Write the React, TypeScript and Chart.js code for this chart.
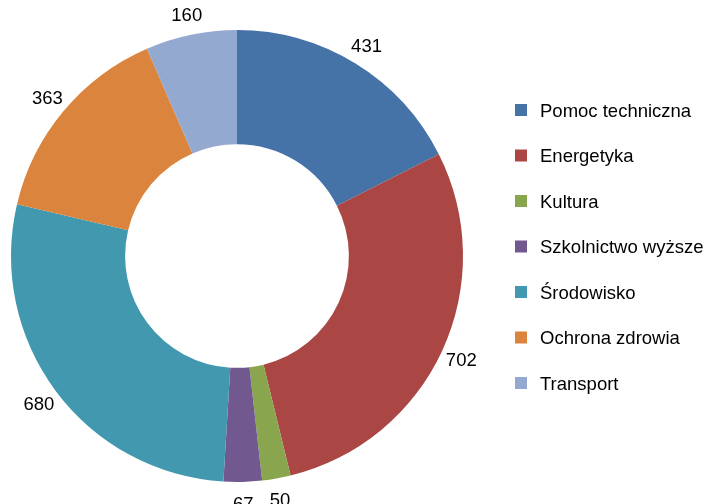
import React, { useEffect, useRef } from "react";
import { Chart, registerables } from "chart.js";

Chart.register(...registerables);

const categories = [
  "Pomoc techniczna",
  "Energetyka",
  "Kultura",
  "Szkolnictwo wyższe",
  "Środowisko",
  "Ochrona zdrowia",
  "Transport",
];
const values = [431, 702, 50, 67, 680, 363, 160];
const colors = ["#4572A7", "#AA4643", "#89A54E", "#71588F", "#4198AF", "#DB843D", "#93A9CF"];

const FONT = '18.5px "Liberation Sans", Arial, sans-serif';

const labelPlugin = {
  id: "outsideLabels",
  afterDraw(chart: any) {
    const ctx = chart.ctx;
    const meta = chart.getDatasetMeta(0);
    ctx.save();
    ctx.font = FONT;
    ctx.fillStyle = "#000";
    ctx.textAlign = "center";
    ctx.textBaseline = "alphabetic";
    meta.data.forEach((arc: any, i: number) => {
      const p = arc.getProps(["x", "y", "startAngle", "endAngle", "outerRadius"], true);
      const mid = (p.startAngle + p.endAngle) / 2;
      const r = p.outerRadius + 21;
      const cx = p.x + Math.cos(mid) * r;
      const cy = p.y + Math.sin(mid) * r;
      ctx.fillText(String(chart.data.datasets[0].data[i]), cx, cy + 6.6);
    });
    // legend
    const lx = 515;
    const ly0 = 110;
    const step = 45.5;
    chart.data.labels.forEach((lab: string, i: number) => {
      const y = ly0 + i * step;
      ctx.fillStyle = chart.data.datasets[0].backgroundColor[i];
      ctx.fillRect(lx, y - 6, 12, 12);
      ctx.fillStyle = "#000";
      ctx.textAlign = "left";
      ctx.fillText(lab, lx + 25, y + 6.6);
    });
    ctx.restore();
  },
};

export default function App() {
  const ref = useRef<HTMLCanvasElement>(null);
  useEffect(() => {
    if (!ref.current) return;
    const chart = new Chart(ref.current, {
      type: "doughnut",
      data: {
        labels: categories,
        datasets: [
          {
            data: values,
            backgroundColor: colors,
            borderWidth: 0,
          },
        ],
      },
      options: {
        responsive: false,
        animation: false,
        cutout: "49.5%",
        layout: { padding: { left: 11, right: 244, top: 30, bottom: 22 } },
        plugins: {
          legend: { display: false },
          tooltip: { enabled: false },
        },
      },
      plugins: [labelPlugin],
    });
    return () => chart.destroy();
  }, []);
  return (
    <div style={{ position: "fixed", left: 0, top: 0, width: 707, height: 504, background: "#fff" }}>
      <canvas ref={ref} width={707} height={504} style={{ width: 707, height: 504 }} />
    </div>
  );
}
